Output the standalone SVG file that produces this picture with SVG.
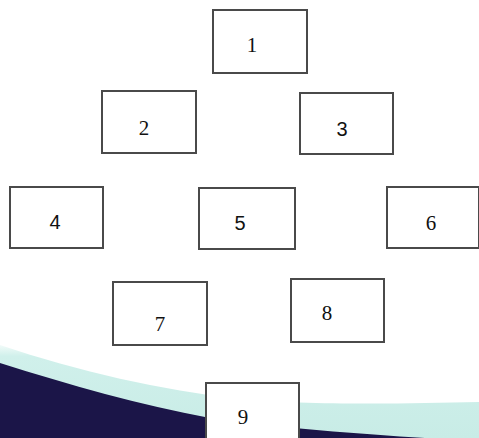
<svg xmlns="http://www.w3.org/2000/svg" width="479" height="438" viewBox="0 0 479 438">
<style>
.box{fill:#fff;stroke:#4a4a4a;stroke-width:2}
.serif{font-family:"Liberation Serif","Times New Roman",serif;font-size:21px;fill:#111;text-anchor:middle}
.sans{font-family:"Liberation Sans",Arial,sans-serif;font-size:20px;fill:#111;text-anchor:middle}
</style>
<defs>
<linearGradient id="cy" x1="0" y1="0" x2="0" y2="1">
<stop offset="0" stop-color="#f2fbf9"/>
<stop offset="0.12" stop-color="#d0f0eb"/>
<stop offset="1" stop-color="#c8ece6"/>
</linearGradient>
</defs>
<rect width="479" height="438" fill="#fff"/>
<path d="M0,345 C80,372 160,390 240,399 C300,405 400,404 479,402 L479,438 L0,438 Z" fill="url(#cy)"/>
<path d="M0,363 C70,385 140,405 210,418 C280,428 360,434 425,438 L0,438 Z" fill="#1b1548"/>
<g id="connectors"></g>
<g id="node1"><rect class="box" x="213" y="10" width="94" height="63"/><text class="serif" x="252" y="52">1</text></g>
<g id="node2"><rect class="box" x="102" y="91" width="94" height="62"/><text class="serif" x="144" y="135">2</text></g>
<g id="node3"><rect class="box" x="300" y="93" width="93" height="61"/><text class="sans" x="342" y="136">3</text></g>
<g id="node4"><rect class="box" x="10" y="187" width="93" height="61"/><text class="sans" x="55" y="229">4</text></g>
<g id="node5"><rect class="box" x="199" y="188" width="96" height="61"/><text class="sans" x="240" y="230">5</text></g>
<g id="node6"><rect class="box" x="387" y="187" width="92" height="61"/><text class="serif" x="431" y="230">6</text></g>
<g id="node7"><rect class="box" x="113" y="282" width="94" height="63"/><text class="serif" x="160" y="331">7</text></g>
<g id="node8"><rect class="box" x="291" y="279" width="93" height="63"/><text class="serif" x="327" y="320">8</text></g>
<g id="node9"><rect class="box" x="206" y="383" width="93" height="62"/><text class="serif" x="243" y="424">9</text></g>
</svg>
